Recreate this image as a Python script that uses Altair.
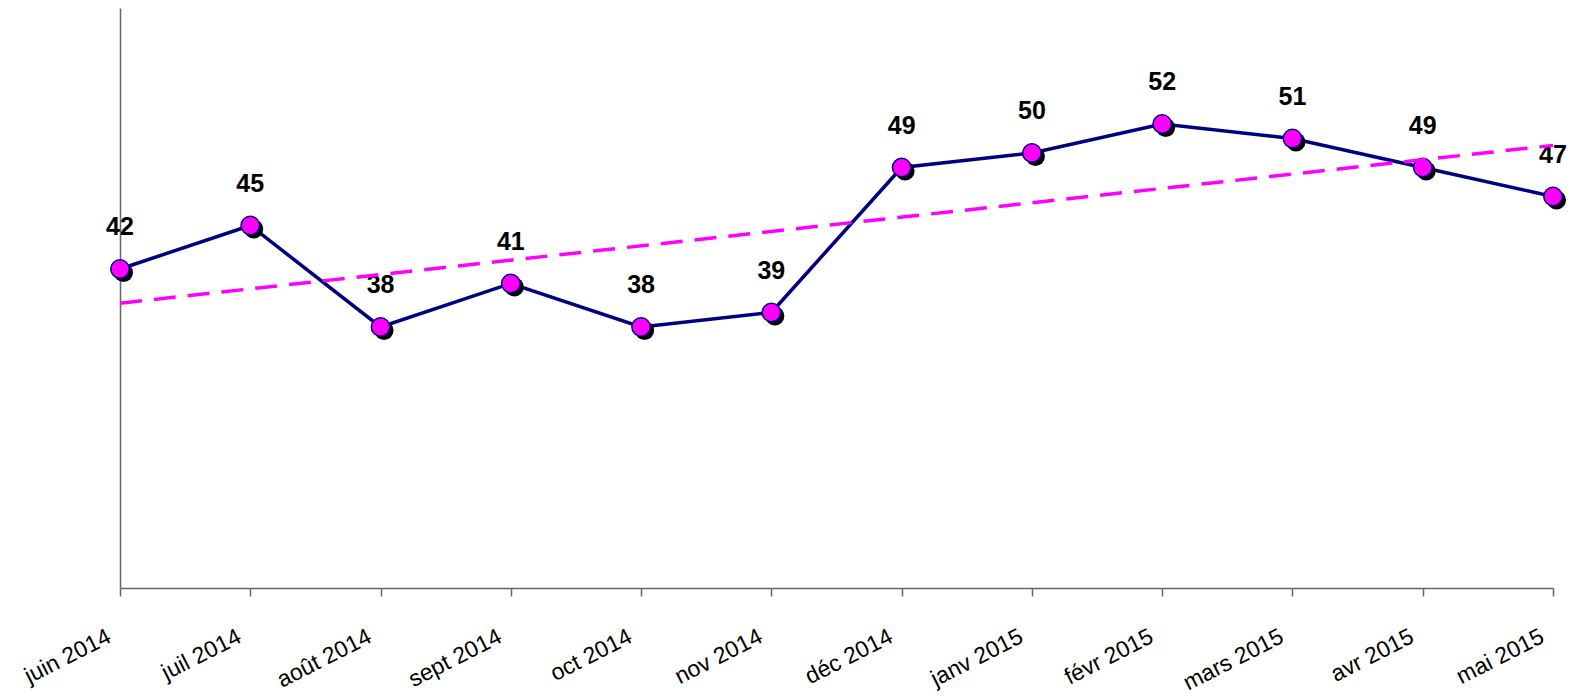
import altair as alt
import pandas as pd

months = ["juin 2014", "juil 2014", "août 2014", "sept 2014", "oct 2014", "nov 2014",
          "déc 2014", "janv 2015", "févr 2015", "mars 2015", "avr 2015", "mai 2015"]
values = [42, 45, 38, 41, 38, 39, 49, 50, 52, 51, 49, 47]
index = list(range(len(months)))

df = pd.DataFrame({"mois": months, "valeur": values, "i": index})

FONT = "Liberation Sans"
NAVY = "#000080"
MAGENTA = "#FF00FF"

x_enc = alt.X("mois:N", sort=months, title=None,
              scale=alt.Scale(type="point", padding=0),
              axis=alt.Axis(labelAngle=-27, labelAlign="right", labelBaseline="top",
                            labelOffset=-16, labelPadding=29, labelFontSize=23,
                            labelFont=FONT, labelColor="black", labelLimit=400,
                            tickSize=8, tickColor="#666666", domainColor="#666666",
                            domainWidth=1.5, tickWidth=1.5, grid=False))
y_axis = alt.Axis(labels=False, ticks=False, grid=False,
                  domainColor="#666666", domainWidth=1.5)
y_enc = alt.Y("valeur:Q", title=None,
              scale=alt.Scale(domain=[20, 60], nice=False, zero=False),
              axis=y_axis)

base = alt.Chart(df)

line = base.mark_line(color=NAVY, strokeWidth=3.5).encode(x=x_enc, y=y_enc)
shadow = base.mark_circle(color="black", opacity=1, size=360, xOffset=3.5, yOffset=3.5).encode(x=x_enc, y=y_enc)
pts = base.mark_point(filled=True, fill=MAGENTA, stroke=NAVY, strokeWidth=1.5,
                      opacity=1, fillOpacity=1, size=340, shape="circle").encode(x=x_enc, y=y_enc)
labels = base.mark_text(font=FONT, fontSize=25, fontWeight="bold", color="black",
                        baseline="middle", dy=-42).encode(x=x_enc, y=y_enc, text="valeur:Q")

nominal_layer = alt.layer(line, shadow, pts, labels)

trend = base.transform_regression("i", "valeur").mark_line(
    color=MAGENTA, strokeWidth=3.5, strokeDash=[22, 12]
).encode(
    x=alt.X("i:Q", axis=None, scale=alt.Scale(domain=[0, 11], nice=False, zero=False)),
    y=y_enc,
)

chart = alt.layer(nominal_layer, trend).resolve_scale(x="independent").properties(
    width=1433, height=580,
    autosize=alt.AutoSizeParams(type="none"),
    padding={"left": 112, "top": 0, "right": 14, "bottom": 110},
    view=alt.ViewBackground(stroke="transparent", strokeWidth=0),
).configure_view(strokeWidth=0, stroke="transparent").configure_axis(
    grid=False).configure(background="white")

chart.save("out.html", embed_options={"renderer": "svg", "actions": False})
